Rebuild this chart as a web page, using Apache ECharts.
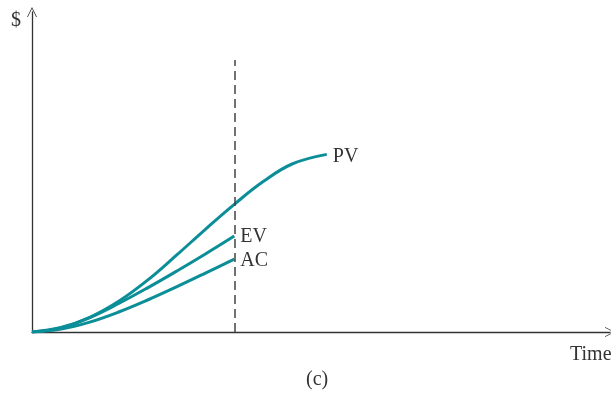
<!DOCTYPE html>
<html><head><meta charset="utf-8">
<script src="https://cdn.jsdelivr.net/npm/echarts@6/dist/echarts.min.js"></script>
<style>html,body{margin:0;padding:0;background:#fff}#c{width:611px;height:394px}</style>
</head><body><div id="c"></div>
<script>
const pvX = [0, 5, 10, 15, 20, 25, 30, 35, 40, 45, 51];
const pvY = [0, 1.4, 4.6, 9.6, 16.2, 24.0, 32.1, 39.9, 47.0, 52.5, 55.5];
const evX = [0, 5, 10, 15, 20, 25, 30, 35];
const evY = [0, 1.3, 4.5, 8.9, 13.8, 19.0, 24.4, 30.0];
const acX = [0, 5, 10, 15, 20, 25, 30, 35];
const acY = [0, 0.9, 3.1, 6.25, 10.0, 14.1, 18.4, 22.8];
const statusDate = 35;
const statusTop = 85;
const names = ['PV', 'EV', 'AC'];
const xName = 'Time', yName = '$', caption = '(c)';

const zip = (xs, ys) => xs.map((x, i) => [x, ys[i]]);
const teal = '#0b8e98';
const font = '"Liberation Serif", "DejaVu Serif", serif';
const chevron = 'path://M0,12 L6,0 L12,12 L11,12 L6,2 L1,12 Z';

function lineSeries(name, data, off) {
  return {
    name, type: 'line', data, smooth: 0.4, symbol: 'none',
    lineStyle: { color: teal, width: 3 },
    endLabel: { show: true, formatter: '{a}', fontFamily: font, fontSize: 20, color: '#333', distance: 6, offset: off },
    z: 3
  };
}

const chart = echarts.init(document.getElementById('c'));
chart.setOption({
  animation: false,
  title: { text: caption, left: 306, top: 370, textStyle: { fontFamily: font, fontSize: 20, fontWeight: 'normal', color: '#333' }, padding: 0, itemGap: 0 },
  grid: { left: 32, right: 1, top: 12, bottom: 62, containLabel: false, outerBoundsMode: 'none' },
  xAxis: {
    type: 'value', min: 0, max: 100,
    name: xName, nameLocation: 'end', nameGap: -40,
    nameTextStyle: { fontFamily: font, fontSize: 20, color: '#333', align: 'left', verticalAlign: 'top', padding: [13, 0, 0, 0] },
    axisLine: { show: true, onZero: false, symbol: ['none', chevron], symbolSize: [10, 12], lineStyle: { color: '#333', width: 1.3 } },
    axisTick: { show: false }, axisLabel: { show: false }, splitLine: { show: false }
  },
  yAxis: {
    type: 'value', min: 0, max: 100,
    name: yName, nameLocation: 'end', nameGap: -9,
    nameTextStyle: { fontFamily: font, fontSize: 20, color: '#333', align: 'right', verticalAlign: 'middle', padding: [0, 11, 0, 0] },
    axisLine: { show: true, onZero: false, symbol: ['none', chevron], symbolSize: [10, 12], lineStyle: { color: '#333', width: 1.3 } },
    axisTick: { show: false }, axisLabel: { show: false }, splitLine: { show: false }
  },
  series: [
    Object.assign(lineSeries(names[0], zip(pvX, pvY), [0, 2]), {
      markLine: {
        silent: true, symbol: 'none', label: { show: false },
        lineStyle: { color: '#444', type: [9, 5], width: 1.5 },
        data: [[{ coord: [statusDate, 0] }, { coord: [statusDate, statusTop] }]]
      }
    }),
    lineSeries(names[1], zip(evX, evY), [0, 1]),
    lineSeries(names[2], zip(acX, acY), [0, 2])
  ]
});
</script></body></html>
